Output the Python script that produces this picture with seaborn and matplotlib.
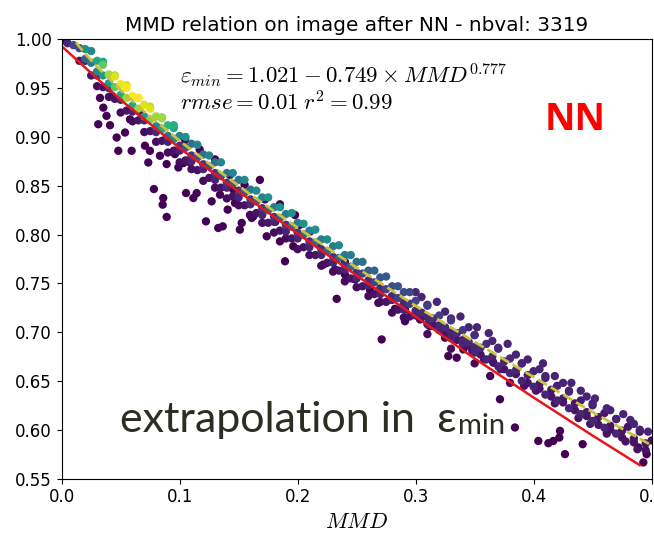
import matplotlib
matplotlib.use("Agg")
import matplotlib.pyplot as plt
import seaborn as sns
import pandas as pd

plt.rcParams['mathtext.fontset'] = 'cm'
plt.rcParams['font.size'] = 12

# --- fitted curve eps_min = 1.021 - 0.749 * MMD^0.777
fit_x = [0.005, 0.01, 0.02, 0.03, 0.05, 0.07, 0.10, 0.13, 0.16, 0.20, 0.25,
         0.30, 0.35, 0.40, 0.45, 0.50]
fit_y = [1.009, 1.000, 0.985, 0.972, 0.948, 0.926, 0.896, 0.868, 0.841, 0.807,
         0.766, 0.727, 0.690, 0.654, 0.618, 0.584]

# --- red lower curve
low_x = [0.0, 0.05, 0.10, 0.15, 0.20, 0.25, 0.30, 0.35, 0.40, 0.45, 0.49]
low_y = [0.993, 0.938, 0.8885, 0.844, 0.801, 0.758, 0.716, 0.673, 0.633, 0.594, 0.5637]

# --- scatter: top edge of the band
top_x = [0.025, 0.035, 0.045, 0.055, 0.065, 0.075, 0.085, 0.095, 0.105, 0.115,
         0.125, 0.135, 0.145, 0.155, 0.165, 0.175, 0.185, 0.195, 0.205, 0.215,
         0.225, 0.235, 0.245, 0.255, 0.265, 0.275, 0.285, 0.295]
top_y = [0.988, 0.977, 0.963, 0.953, 0.940, 0.931, 0.920, 0.912, 0.900, 0.892,
         0.881, 0.874, 0.863, 0.856, 0.845, 0.838, 0.828, 0.822, 0.811, 0.805,
         0.795, 0.789, 0.779, 0.772, 0.763, 0.757, 0.747, 0.741]
top_c = [0.45, 0.60, 0.85, 0.95, 0.95, 0.90, 0.80, 0.62, 0.50, 0.45,
         0.45, 0.45, 0.46, 0.47, 0.48, 0.50, 0.50, 0.50, 0.50, 0.49,
         0.48, 0.46, 0.42, 0.36, 0.32, 0.28, 0.25, 0.22]

# --- scatter: upper part of the band
up_x = [0.02, 0.03, 0.04, 0.05, 0.06, 0.07, 0.08, 0.09, 0.10, 0.11, 0.12, 0.13,
        0.14, 0.15, 0.16, 0.17, 0.18, 0.19, 0.20, 0.21, 0.22, 0.23, 0.24, 0.25,
        0.26, 0.27, 0.28, 0.29, 0.30, 0.31, 0.32, 0.33, 0.34, 0.35, 0.36, 0.37,
        0.38, 0.39, 0.40, 0.41, 0.42, 0.43, 0.44, 0.45, 0.46, 0.47, 0.48, 0.49, 0.50]
up_y = [0.990, 0.978, 0.964, 0.954, 0.942, 0.933, 0.921, 0.912, 0.901, 0.893,
        0.882, 0.874, 0.863, 0.856, 0.846, 0.838, 0.828, 0.821, 0.812, 0.804,
        0.795, 0.788, 0.779, 0.772, 0.763, 0.756, 0.747, 0.741, 0.732, 0.727,
        0.717, 0.712, 0.702, 0.697, 0.688, 0.683, 0.673, 0.668, 0.660, 0.653,
        0.645, 0.640, 0.630, 0.625, 0.617, 0.611, 0.603, 0.598, 0.589]
up_c = [0.50, 0.60, 0.85, 0.97, 1.00, 0.95, 0.85, 0.65, 0.45, 0.36, 0.36, 0.37,
        0.37, 0.38, 0.38, 0.42, 0.42, 0.42, 0.42, 0.42, 0.42, 0.41, 0.40, 0.35,
        0.30, 0.27, 0.24, 0.22, 0.20, 0.18, 0.17, 0.16, 0.15, 0.14, 0.13, 0.12,
        0.11, 0.10, 0.09, 0.08, 0.08, 0.07, 0.07, 0.06, 0.06, 0.05, 0.05, 0.04, 0.04]

# --- scatter: centre of the band
mid_x = [0.005, 0.015, 0.025, 0.035, 0.045, 0.055, 0.065, 0.075, 0.085, 0.095,
         0.105, 0.115, 0.125, 0.135, 0.145, 0.155, 0.165, 0.175, 0.185, 0.195,
         0.205, 0.215, 0.225, 0.235, 0.245, 0.255, 0.265, 0.275, 0.285, 0.295,
         0.305, 0.315, 0.325, 0.335, 0.345, 0.355, 0.365, 0.375, 0.385, 0.395,
         0.405, 0.415, 0.425, 0.435, 0.445, 0.455, 0.465, 0.475, 0.485, 0.495]
mid_y = [0.996, 0.991, 0.976, 0.963, 0.951, 0.940, 0.929, 0.918, 0.908, 0.898,
         0.889, 0.879, 0.870, 0.860, 0.852, 0.843, 0.834, 0.825, 0.817, 0.808,
         0.800, 0.792, 0.783, 0.776, 0.767, 0.760, 0.751, 0.744, 0.735, 0.729,
         0.720, 0.714, 0.705, 0.699, 0.690, 0.684, 0.675, 0.670, 0.661, 0.656,
         0.647, 0.641, 0.632, 0.627, 0.618, 0.613, 0.604, 0.599, 0.591, 0.586]
mid_c = [0.10, 0.20, 0.40, 0.55, 0.75, 0.85, 0.85, 0.80, 0.60, 0.45,
         0.25, 0.25, 0.25, 0.25, 0.26, 0.27, 0.28, 0.33, 0.33, 0.33,
         0.33, 0.33, 0.33, 0.32, 0.30, 0.20, 0.20, 0.19, 0.18, 0.17,
         0.12, 0.12, 0.12, 0.12, 0.11, 0.11, 0.10, 0.10, 0.10, 0.09,
         0.06, 0.06, 0.06, 0.06, 0.06, 0.05, 0.05, 0.05, 0.05, 0.05]

# --- scatter: yellow core near the top
core_x = [0.035, 0.045, 0.055, 0.065, 0.075, 0.085, 0.095]
core_y = [0.974, 0.962, 0.950, 0.940, 0.929, 0.919, 0.909]
core_c = [0.75, 0.95, 1.00, 1.00, 0.95, 0.85, 0.60]

# --- scatter: just under the dashed curve
under_x = [0.01, 0.02, 0.03, 0.04, 0.05, 0.06, 0.07, 0.08, 0.09, 0.10, 0.11,
           0.12, 0.13, 0.14, 0.15, 0.16, 0.17, 0.18, 0.19, 0.20, 0.21, 0.22,
           0.23, 0.24, 0.25, 0.26, 0.27, 0.28, 0.29, 0.30, 0.31, 0.32, 0.33,
           0.34, 0.35]
under_y = [0.994, 0.980, 0.967, 0.955, 0.943, 0.932, 0.921, 0.911, 0.901, 0.891,
           0.881, 0.872, 0.863, 0.853, 0.845, 0.836, 0.827, 0.818, 0.810, 0.802,
           0.793, 0.785, 0.777, 0.769, 0.761, 0.753, 0.745, 0.737, 0.730, 0.722,
           0.715, 0.707, 0.700, 0.692, 0.685]
under_c = [0.20, 0.30, 0.45, 0.55, 0.60, 0.60, 0.55, 0.45, 0.35, 0.15, 0.15,
           0.15, 0.15, 0.15, 0.15, 0.15, 0.15, 0.15, 0.15, 0.15, 0.14, 0.14,
           0.14, 0.14, 0.13, 0.12, 0.12, 0.12, 0.11, 0.11, 0.10, 0.10, 0.10,
           0.10, 0.10]

# --- scatter: points below the fitted curve
below_x = [0.02, 0.03, 0.04, 0.05, 0.06, 0.07, 0.08, 0.09, 0.10, 0.11, 0.12,
           0.13, 0.14, 0.15, 0.16, 0.17, 0.18, 0.19, 0.20, 0.21, 0.22, 0.23,
           0.24, 0.25, 0.26, 0.27, 0.28, 0.29, 0.30, 0.31, 0.32, 0.33, 0.34,
           0.35, 0.36, 0.37, 0.38, 0.39, 0.40, 0.41, 0.42, 0.43, 0.44, 0.45,
           0.46, 0.47]
below_y = [0.978, 0.963, 0.950, 0.938, 0.926, 0.917, 0.905, 0.895, 0.886, 0.875,
           0.867, 0.856, 0.848, 0.838, 0.831, 0.820, 0.813, 0.803, 0.796, 0.787,
           0.779, 0.771, 0.764, 0.755, 0.748, 0.739, 0.733, 0.723, 0.717, 0.708,
           0.702, 0.694, 0.688, 0.679, 0.672, 0.665, 0.658, 0.650, 0.644, 0.636,
           0.630, 0.622, 0.616, 0.609, 0.602, 0.596]
below_c = 0.10

# --- scatter: lower band, purple
lowband_x = [0.015, 0.025, 0.035, 0.045, 0.055, 0.065, 0.075, 0.085, 0.095, 0.105,
             0.115, 0.125, 0.135, 0.145, 0.155, 0.165, 0.175, 0.185, 0.195, 0.205,
             0.215, 0.225, 0.235, 0.245, 0.255, 0.265, 0.275, 0.285, 0.295]
lowband_y = [0.978, 0.963, 0.951, 0.939, 0.927, 0.917, 0.906, 0.896, 0.886, 0.876,
             0.866, 0.858, 0.848, 0.839, 0.830, 0.822, 0.812, 0.804, 0.796, 0.787,
             0.779, 0.771, 0.763, 0.755, 0.747, 0.739, 0.731, 0.723, 0.716]
lowband_c = 0.05

# --- scatter: purple points around the red curve
deep_x = [0.03, 0.04, 0.05, 0.06, 0.07, 0.08, 0.09, 0.10, 0.11, 0.12, 0.13,
          0.14, 0.15, 0.16, 0.17, 0.18, 0.19, 0.20, 0.21, 0.22, 0.23, 0.24,
          0.25, 0.26, 0.27, 0.28, 0.29, 0.31, 0.33, 0.35, 0.38]
deep_y = [0.952, 0.941, 0.925, 0.916, 0.905, 0.895, 0.884, 0.874, 0.867, 0.855,
          0.848, 0.837, 0.830, 0.820, 0.812, 0.802, 0.796, 0.785, 0.779, 0.768,
          0.762, 0.752, 0.746, 0.737, 0.731, 0.720, 0.715, 0.698, 0.683, 0.668,
          0.648]
deep_c = 0.03

# --- scatter: spread of the band on the right part
spread_x = [0.305, 0.325, 0.345, 0.365, 0.385, 0.405, 0.425, 0.445, 0.465, 0.485,
            0.31, 0.33, 0.35, 0.37, 0.39, 0.41, 0.43, 0.45, 0.47, 0.49,
            0.300, 0.318, 0.338, 0.352, 0.362, 0.378, 0.395, 0.408, 0.418, 0.432,
            0.440, 0.452, 0.462, 0.476, 0.482, 0.497]
spread_y = [0.736, 0.721, 0.705, 0.691, 0.677, 0.662, 0.648, 0.634, 0.620, 0.606,
            0.728, 0.714, 0.697, 0.684, 0.668, 0.655, 0.639, 0.627, 0.611, 0.600,
            0.741, 0.731, 0.716, 0.705, 0.699, 0.688, 0.672, 0.668, 0.655, 0.648,
            0.640, 0.632, 0.622, 0.616, 0.610, 0.598]
spread_c = 0.10

right_x = [0.305, 0.315, 0.325, 0.335, 0.345, 0.355, 0.365, 0.375, 0.385, 0.395,
           0.405, 0.415, 0.425, 0.435, 0.445, 0.455, 0.465, 0.475, 0.485, 0.495,
           0.312, 0.328, 0.348, 0.358, 0.372, 0.392, 0.402, 0.418, 0.438, 0.448,
           0.462, 0.478, 0.488]
right_y = [0.716, 0.707, 0.701, 0.692, 0.686, 0.677, 0.671, 0.662, 0.657, 0.648,
           0.642, 0.634, 0.628, 0.620, 0.614, 0.605, 0.600, 0.592, 0.587, 0.579,
           0.706, 0.695, 0.681, 0.672, 0.662, 0.645, 0.640, 0.627, 0.612, 0.606,
           0.596, 0.588, 0.580]
right_c = 0.05

# --- scatter: outliers
out_x = [0.002, 0.0325, 0.0353, 0.038, 0.031, 0.041, 0.0466, 0.0537, 0.048, 0.0593,
         0.0579, 0.0706, 0.0748, 0.0734, 0.0833, 0.089, 0.096, 0.0989, 0.1088,
         0.0782, 0.0861, 0.0856, 0.089, 0.1054, 0.1144, 0.1116, 0.1223, 0.1271,
         0.1327, 0.1365, 0.1342, 0.1407, 0.1455, 0.1526, 0.1469, 0.1624, 0.1738,
         0.1893, 0.185, 0.1963, 0.2218, 0.1031, 0.1611, 0.2317, 0.2401, 0.2331,
         0.2684, 0.2825, 0.291, 0.2712, 0.3249, 0.3277, 0.3348, 0.3404, 0.3632,
         0.3659, 0.3715, 0.404, 0.4125, 0.4167, 0.4218, 0.4266, 0.4416, 0.4224,
         0.3842, 0.4888, 0.493, 0.4958,
         0.0427, 0.066, 0.0833, 0.0877, 0.1046, 0.117, 0.130, 0.1427, 0.155,
         0.168, 0.1723, 0.185, 0.1978, 0.202, 0.2104, 0.2172, 0.1596, 0.151,
         0.181, 0.2401, 0.2486, 0.2613, 0.2783, 0.291, 0.3038]
out_y = [0.999, 0.940, 0.930, 0.9216, 0.913, 0.912, 0.8994, 0.9045, 0.8858, 0.8858,
         0.918, 0.891, 0.8858, 0.8738, 0.8807, 0.8722, 0.8824, 0.8687, 0.8738,
         0.8466, 0.8374, 0.8306, 0.818, 0.8425, 0.8425, 0.8374, 0.8135, 0.834,
         0.8067, 0.8084, 0.8408, 0.8255, 0.8459, 0.8119, 0.8323, 0.8186, 0.7982,
         0.7726, 0.793, 0.788, 0.7692, 0.8732, 0.817, 0.7641, 0.759, 0.7341,
         0.730, 0.7239, 0.7112, 0.6925, 0.6943, 0.6755, 0.6738, 0.6823, 0.655,
         0.6687, 0.6312, 0.5885, 0.5862, 0.5885, 0.592, 0.575, 0.5852, 0.5988,
         0.6023, 0.5818, 0.5665, 0.575,
         0.942, 0.9256, 0.909, 0.897, 0.897, 0.887, 0.877, 0.861, 0.851,
         0.856, 0.836, 0.831, 0.820, 0.810, 0.803, 0.790, 0.820, 0.805,
         0.813, 0.772, 0.754, 0.7435, 0.7335, 0.723, 0.713]
out_c = 0.0


def main():
  fig = plt.figure(figsize=(6.54, 5.33), dpi=100)
  ax = fig.add_axes([0.0943, 0.1022, 0.902, 0.824])

  parts = [
    pd.DataFrame({'x': out_x, 'y': out_y, 'c': out_c}),
    pd.DataFrame({'x': deep_x, 'y': deep_y, 'c': deep_c}),
    pd.DataFrame({'x': lowband_x, 'y': lowband_y, 'c': lowband_c}),
    pd.DataFrame({'x': right_x, 'y': right_y, 'c': right_c}),
    pd.DataFrame({'x': below_x, 'y': below_y, 'c': below_c}),
    pd.DataFrame({'x': spread_x, 'y': spread_y, 'c': spread_c}),
    pd.DataFrame({'x': under_x, 'y': under_y, 'c': under_c}),
    pd.DataFrame({'x': mid_x, 'y': mid_y, 'c': mid_c}),
    pd.DataFrame({'x': up_x, 'y': up_y, 'c': up_c}),
    pd.DataFrame({'x': top_x, 'y': top_y, 'c': top_c}),
    pd.DataFrame({'x': core_x, 'y': core_y, 'c': core_c}),
  ]
  df = pd.concat(parts, ignore_index=True).sort_values('c', kind='stable')

  sns.scatterplot(data=df, x='x', y='y', hue='c', palette='viridis',
                  hue_norm=(0, 1), s=36, linewidth=0, legend=False, ax=ax)

  sns.lineplot(x=low_x, y=low_y, color='#e8161c', lw=1.8, sort=False,
               estimator=None, ax=ax)
  sns.lineplot(x=fit_x, y=fit_y, color='#c9c23a', lw=2.0, ls='--', sort=False,
               estimator=None, ax=ax)

  ax.set_xlim(0, 0.5)
  ax.set_ylim(0.55, 1.0)
  ax.set_xticks([0.0, 0.1, 0.2, 0.3, 0.4, 0.5])
  ax.set_yticks([0.55, 0.60, 0.65, 0.70, 0.75, 0.80, 0.85, 0.90, 0.95, 1.00])
  ax.tick_params(labelsize=12)
  ax.set_xlabel('$MMD$', fontsize=16)
  ax.set_ylabel('')
  ax.set_title('MMD relation on image after NN - nbval: 3319', fontsize=14.4)

  ax.text(0.1, 0.9625, r'$\varepsilon_{min} = 1.021 - 0.749 \times MMD^{0.777}$',
          fontsize=16.5, va='center', ha='left')
  ax.text(0.1, 0.934, r'$rmse = 0.01 \; r^2 = 0.99$',
          fontsize=16.5, va='center', ha='left')

  ax.text(0.435, 0.9175, 'NN', color='#ff0000', fontsize=27,
          fontweight='bold', family='Open Sans', ha='center', va='center')
  t = ax.text(0.0494, 0.598, 'extrapolation in  \u03b5', color='#2e2d24',
              fontsize=31, family='Lato', ha='left', va='baseline')
  ax.annotate('min', xy=(1, 0), xycoords=t, xytext=(1, 0),
              textcoords='offset points', color='#2e2d24', fontsize=21,
              family='Lato', ha='left', va='bottom')

  plt.savefig('out.png', dpi=100)


if __name__ == "__main__":
  main()
